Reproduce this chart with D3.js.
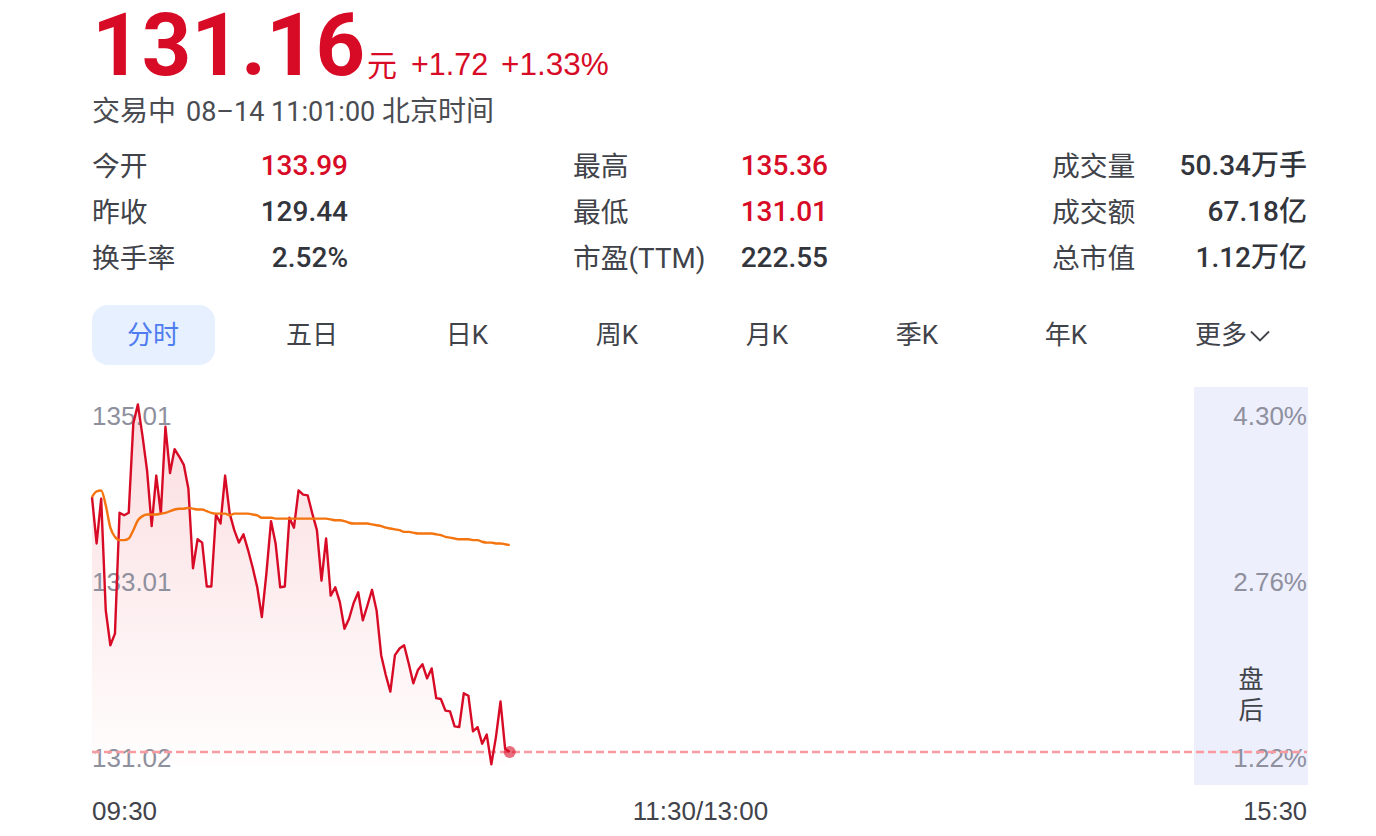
<!DOCTYPE html>
<html><head><meta charset="utf-8">
<script src="https://cdn.jsdelivr.net/npm/d3@7/dist/d3.min.js"></script>
<style>html,body{margin:0;padding:0;background:#fff;overflow:hidden}svg{display:block}
text{font-family:"Roboto","Noto Sans CJK SC",sans-serif}</style></head><body>
<script>
const headlinePrice="131.16", headlineUnit="元", headlineChange="+1.72", headlinePct="+1.33%";
const statusParts=["交易中","08–14 11:01:00","北京时间"];
const statLabels=[["今开","昨收","换手率"],["最高","最低","市盈(TTM)"],["成交量","成交额","总市值"]];
const statValues=[["133.99","129.44","2.52%"],["135.36","131.01","222.55"],["50.34万手","67.18亿","1.12万亿"]];
const statRed=[[true,false,false],[true,true,false],[false,false,false]];
const tabs=["分时","五日","日K","周K","月K","季K","年K","更多"];
const priceTicks=[135.01,133.01,131.02];
const pctTicks=["4.30%","2.76%","1.22%"];
const timeTicks=["09:30","11:30/13:00","15:30"];
const lastPrice=131.16;
const prices=[134.24,133.68,134.22,132.87,132.45,132.59,134.05,134.02,134.05,135.13,135.36,134.98,134.56,133.89,134.50,134.04,135.09,134.53,134.82,134.73,134.63,134.34,133.38,133.73,133.69,133.16,133.16,134.03,133.92,134.50,134.04,133.84,133.69,133.79,133.60,133.39,133.15,132.79,133.32,133.95,133.68,133.15,133.16,133.99,133.87,134.32,134.27,134.26,134.04,133.84,133.23,133.74,133.05,133.15,132.97,132.65,132.77,132.96,133.09,132.75,132.93,133.12,132.87,132.33,132.09,131.89,132.33,132.41,132.45,132.23,131.99,132.15,132.22,132.05,132.17,131.81,131.80,131.66,131.65,131.47,131.46,131.87,131.84,131.41,131.46,131.26,131.37,131.01,131.34,131.77,131.20,131.16];
const averages=[134.24,134.31,134.32,134.14,133.87,133.76,133.72,133.72,133.74,133.84,133.96,134.01,134.03,134.03,134.03,134.04,134.05,134.07,134.09,134.10,134.10,134.11,134.10,134.09,134.09,134.07,134.05,134.04,134.04,134.04,134.02,134.04,134.04,134.04,134.04,134.03,134.02,133.99,133.99,133.99,133.98,133.98,133.98,133.98,133.98,133.98,133.98,133.98,133.98,133.98,133.98,133.98,133.97,133.96,133.96,133.95,133.93,133.92,133.92,133.92,133.92,133.91,133.90,133.89,133.87,133.86,133.85,133.84,133.82,133.82,133.81,133.80,133.80,133.80,133.80,133.79,133.78,133.76,133.75,133.74,133.73,133.73,133.73,133.72,133.72,133.70,133.69,133.69,133.68,133.68,133.67,133.66];
const W=1376,H=836,L=92,R=1307;
const RED="#d80b26",DARK="#33353c",GREY="#8f909e",ORANGE="#f4740f";
const svg=d3.select("body").append("svg").attr("width",W).attr("height",H);
const txt=(x,y,s,size,fill,anchor="start",weight=400,extra={})=>{const t=svg.append("text").attr("x",x).attr("y",y).attr("font-size",size).attr("fill",fill).attr("text-anchor",anchor).attr("font-weight",weight).text(s);for(const k in extra)t.style(k,extra[k]);return t;};
const sans={"font-family":"'Liberation Sans',sans-serif"};
// header
txt(92,75,headlinePrice,86.5,RED,"start",700,{"font-family":"Roboto,sans-serif"});
txt(367,76,headlineUnit,30,RED);
txt(411,75,headlineChange,30.5,RED,"start",400,sans);
txt(501,75,headlinePct,31.5,RED,"start",400,sans);
const statusX=[92,186,382],statusSize=[28,27,28];
statusParts.forEach((s,i)=>txt(statusX[i],121,s,statusSize[i],"#4a4c52"));
// stats
const rowY=[175,221,267],labelX=[92,573,1052],valueX=[348,828,1307];
statLabels.forEach((col,c)=>col.forEach((s,r)=>{
 txt(labelX[c],rowY[r]+.5,s,27.8,"#41434a");
 txt(valueX[c],rowY[r],statValues[c][r],28,statRed[c][r]?RED:DARK,"end",500);
}));
// tabs
svg.append("rect").attr("x",92).attr("y",305).attr("width",123).attr("height",60).attr("rx",16).attr("fill","#e6f0fe");
const tabX=[153,312,467,617,767,917,1066,1221];
tabs.forEach((s,i)=>txt(tabX[i],344,s,26,i===0?"#4f7cf0":"#41434a","middle"));
svg.append("path").attr("d","M1251 331.5L1260 340.5L1269 331.5").attr("fill","none").attr("stroke","#41434a").attr("stroke-width",1.8);
// chart
const x=d3.scaleLinear().domain([0,264.7]).range([L,R]);
const y=d3.scaleLinear().domain([131.01,135.36]).range([764.4,404.4]);
const defs=svg.append("defs");
const g=defs.append("linearGradient").attr("id","area").attr("x1",0).attr("x2",0).attr("y1",0).attr("y2",1);
g.append("stop").attr("offset",0).attr("stop-color","#e8404f").attr("stop-opacity",.18);
g.append("stop").attr("offset",1).attr("stop-color","#e8404f").attr("stop-opacity",.01);
svg.append("rect").attr("x",1194).attr("y",387).attr("width",114).attr("height",398).attr("fill","#edeffd");
const baseY=y(131.01);
svg.append("path").datum(prices).attr("fill","url(#area)").attr("d",d3.area().x((d,i)=>x(i)).y0(baseY).y1(d=>y(d)));
const labelY=[425,591,767];
priceTicks.forEach((p,i)=>txt(L,labelY[i],p.toFixed(2),26,GREY,"start",400,sans));
pctTicks.forEach((p,i)=>txt(R,labelY[i],p,26,GREY,"end",400,sans));
svg.append("line").attr("x1",L).attr("x2",R).attr("y1",y(lastPrice)).attr("y2",y(lastPrice)).attr("stroke","#f99aa0").attr("stroke-width",2.4).attr("stroke-dasharray","8 4");
svg.append("path").datum(prices).attr("fill","none").attr("stroke",RED).attr("stroke-width",2.4).attr("stroke-linejoin","round").attr("d",d3.line().x((d,i)=>x(i)).y(d=>y(d)));
svg.append("path").datum(averages).attr("fill","none").attr("stroke",ORANGE).attr("stroke-width",2.4).attr("d",d3.line().x((d,i)=>x(i)).y(d=>y(d)).curve(d3.curveMonotoneX));
svg.append("circle").attr("cx",x(prices.length-1)).attr("cy",y(lastPrice)).attr("r",6).attr("fill",RED).attr("fill-opacity",.6);
txt(1251,688,"盘",25,"#41434a","middle");
txt(1251,719,"后",25,"#41434a","middle");
txt(L,820,timeTicks[0],26,"#41434a","start",400,sans);
txt(700.5,820,timeTicks[1],26,"#41434a","middle",400,sans);
txt(R,820,timeTicks[2],25.5,"#41434a","end",400,sans);
</script></body></html>
